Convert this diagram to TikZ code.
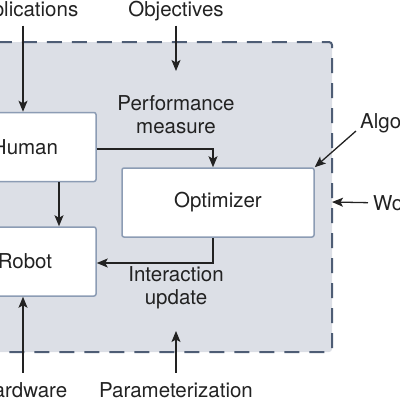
\documentclass[tikz,border=0pt]{standalone}
\usepackage{fontspec}
\setmainfont{TeX Gyre Heros}
\usetikzlibrary{arrows.meta,positioning}
\definecolor{panel}{HTML}{DCDFE6}
\definecolor{dashc}{HTML}{4E5D75}
\definecolor{edgec}{HTML}{8C9CB4}
\definecolor{ink}{HTML}{222222}

\begin{document}
\begin{tikzpicture}[x=1pt,y=-1pt,
  every node/.style={font=\fontsize{20.5}{23}\selectfont,text=ink},
  box/.style={draw=edgec,line width=1.5pt,fill=white,rounded corners=2pt,minimum height=69pt},
  lbl/.style={inner sep=0pt,anchor=base,align=center},
  conn/.style={->,line width=1.3pt,draw=ink},
  >={Stealth[length=11pt,width=9pt,inset=2.5pt]}]
\path[use as bounding box,clip] (0,0) rectangle (400,400);
% shaded loop area
\draw[fill=panel,draw=dashc,line width=2pt,dash pattern=on 15pt off 10pt,rounded corners=3pt] (-60,42) rectangle (332,352);
% blocks
\node[box,minimum width=142pt] (human) at (25,147) {Human};
\node[box,minimum width=142pt] (robot) at (25,261.5) {Robot};
\node[box,minimum width=192pt] (opt) at (218,202.5) {Optimizer};
% outside inputs
\node[lbl] (app) at (23,16) {Applications};
\node[lbl] (obj) at (176,16) {Objectives};
\node[lbl] (algo) at (360,128) [anchor=base west] {Algorithm};
\node[lbl] (world) at (373,210) [anchor=base west] {World};
\node[lbl] (hw) at (23,397) {Hardware};
\node[lbl] (param) at (176,397) {Parameterization};
% loop labels (base = last line)
\node[lbl] (perf) at (176,133) {Performance\\measure};
\node[lbl] (inter) at (176,304) {Interaction\\update};
% free ends
\coordinate (objend) at (176,71);
\coordinate (paramend) at (176,331);
\coordinate (algostart) at (356,131);
\coordinate (worldend) at (332,202);
% connectors
\draw[conn] (app.south) ++(0,5) -- (app |- human.north);
\draw[conn] (obj.south) ++(0,5) -- (objend);
\draw[conn] (param.north) ++(0,-9) -- (paramend);
\draw[conn] (hw.north) ++(0,-9) -- (hw |- robot.south);
\draw[conn] (algostart) -- (opt.north east);
\draw[conn] (world.west) ++(-5,0) -- (worldend);
\draw[conn] ([yshift=-2pt]human.east) -| ([xshift=-5pt]opt.north);
\draw[conn] (59,0 |- human.south) -- (59,0 |- robot.north);
\draw[conn] ([xshift=-5pt]opt.south) |- ([yshift=-1.5pt]robot.east);
\end{tikzpicture}
\end{document}
